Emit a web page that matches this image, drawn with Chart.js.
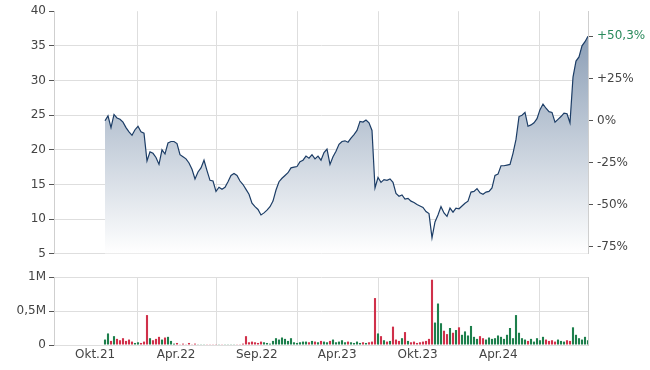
<!DOCTYPE html>
<html><head><meta charset="utf-8">
<script src="https://cdn.jsdelivr.net/npm/chart.js@4"></script>
<style>
html,body{margin:0;padding:0;background:#fff;width:650px;height:370px;overflow:hidden}
canvas{position:absolute;left:0}
#c1{top:0}
#c2{top:262px}
</style></head><body>
<canvas id="c1" width="650" height="265" style="width:650px;height:265px"></canvas>
<canvas id="c2" width="650" height="108" style="width:650px;height:108px"></canvas>
<script>
// closing prices, one sample per step (oldest first)
const prices = [
24.2,24.9,23.2,25.1,24.6,24.4,24.0,23.2,22.6,22.1,
22.9,23.4,22.6,22.4,18.4,19.7,19.5,18.9,17.9,20.0,
19.4,21.0,21.2,21.2,20.9,19.3,19.0,18.7,18.1,17.2,
15.8,16.8,17.4,18.5,17.0,15.6,15.5,14.0,14.6,14.3,
14.6,15.4,16.3,16.6,16.3,15.5,15.0,14.3,13.6,12.3,
11.8,11.4,10.6,10.9,11.3,11.8,12.6,14.2,15.4,15.9,
16.3,16.7,17.4,17.5,17.6,18.3,18.5,19.1,18.8,19.3,
18.7,19.1,18.5,19.6,20.1,17.9,19.0,19.8,20.8,21.2,
21.3,21.1,21.7,22.2,22.8,24.1,24.0,24.3,23.9,22.8,
14.5,16.0,15.3,15.7,15.6,15.8,15.3,13.7,13.3,13.5,
12.9,13.0,12.6,12.4,12.1,11.9,11.7,11.1,10.8,7.3,
9.6,10.6,11.8,10.9,10.4,11.6,11.0,11.6,11.5,11.9,
12.3,12.6,13.9,14.0,14.4,13.8,13.6,13.9,14.0,14.5,
16.3,16.5,17.7,17.7,17.8,17.9,19.5,21.5,24.8,25.0,
25.4,23.4,23.6,23.9,24.5,25.8,26.6,26.0,25.5,25.4,
24.0,24.4,24.8,25.3,25.2,23.9,30.5,32.8,33.4,35.0,
35.6,36.37
];
// traded volume in millions, same samples
const volumes = [
0.08,0.17,0.06,0.13,0.09,0.07,0.10,0.06,0.08,0.05,
0.03,0.04,0.03,0.05,0.44,0.10,0.07,0.09,0.12,0.08,
0.11,0.12,0.06,0.02,0.03,0.01,0.02,0.01,0.03,0.01,
0.02,0.01,0.01,0.01,0.01,0.01,0.01,0.01,0.01,0.01,
0.01,0.01,0.01,0.01,0.01,0.01,0.02,0.13,0.04,0.05,
0.04,0.03,0.05,0.04,0.03,0.02,0.06,0.10,0.08,0.11,
0.09,0.06,0.10,0.04,0.03,0.04,0.05,0.05,0.04,0.06,
0.05,0.04,0.06,0.05,0.04,0.06,0.08,0.04,0.05,0.07,
0.04,0.05,0.04,0.03,0.05,0.03,0.04,0.03,0.04,0.05,
0.69,0.17,0.13,0.07,0.05,0.06,0.27,0.08,0.06,0.10,
0.19,0.06,0.04,0.05,0.03,0.04,0.05,0.06,0.09,0.96,
0.33,0.61,0.32,0.21,0.16,0.25,0.18,0.22,0.26,0.15,
0.20,0.14,0.28,0.12,0.09,0.13,0.10,0.08,0.11,0.09,
0.10,0.14,0.12,0.09,0.15,0.25,0.10,0.44,0.18,0.10,
0.08,0.06,0.09,0.05,0.10,0.07,0.12,0.08,0.06,0.07,
0.05,0.08,0.06,0.05,0.07,0.06,0.26,0.15,0.10,0.08,
0.12,0.07
];
const tickLabels = ['Okt.21','Apr.22','Sep.22','Apr.23','Okt.23','Apr.24'];
const tickAt = [-3.3, 23.7, 50.6, 77.4, 104.2, 131.1];   // label positions (sample index)
const gridAt = [10.7, 37.3, 64.3, 91.0, 117.7, 144.7];   // period boundaries (sample index)
const priceTicks = [5,10,15,20,25,30,35,40];
const pctSteps = [-0.75,-0.5,-0.25,0,0.25];
const volTicks = [0,0.5,1];
const volTickLabels = ['0','0,5M','1M'];

if (prices.length !== volumes.length) throw new Error('length mismatch '+prices.length+' '+volumes.length);

Chart.defaults.font.family = "'DejaVu Sans', Verdana, sans-serif";
Chart.defaults.font.size = 12;
Chart.defaults.color = '#444';

const GRID = '#dedede', BORDER = '#cfcfcf', TICKC = '#555', TXT = '#444', GREENTXT = '#2a8a5c';
const idx = prices.map((_, i) => i);
const base = prices[0], last = prices[prices.length - 1];
const pctLast = (last / base - 1) * 100;
const fmtPct = k => k === 0 ? '0%' : (k > 0 ? '+' : '-') + Math.round(Math.abs(k) * 100) + '%';

function xScale(showLabels) {
  return {
    type: 'linear', min: -17, max: prices.length - 1, offset: false,
    afterBuildTicks: s => { s.ticks = gridAt.map(v => ({value: v})).concat(tickAt.map(v => ({value: v}))); },
    ticks: {
      display: showLabels, autoSkip: false, maxRotation: 0, minRotation: 0, padding: 3, color: TXT,
      callback: (v, i) => i >= gridAt.length ? tickLabels[i - gridAt.length] : ''
    },
    grid: { color: c => c.index < gridAt.length ? GRID : 'rgba(0,0,0,0)', drawTicks: false, offset: false },
    border: { display: false },
    afterFit: s => { s.height = showLabels ? 25 : 0; }
  };
}

new Chart(document.getElementById('c1'), {
  type: 'line',
  data: {
    labels: idx,
    datasets: [{
      data: prices,
      borderColor: '#1c3d66', borderWidth: 1.2, pointRadius: 0, tension: 0,
      fill: 'start',
      backgroundColor: c => {
        const a = c.chart.chartArea;
        if (!a) return 'rgba(140,160,185,0.5)';
        const g = c.chart.ctx.createLinearGradient(0, a.top, 0, a.bottom);
        g.addColorStop(0, '#7f94ae');
        g.addColorStop(1, '#ffffff');
        return g;
      }
    }]
  },
  options: {
    responsive: false, animation: false, devicePixelRatio: 1,
    layout: { padding: { top: 10, bottom: 8, left: 0, right: 0 } },
    plugins: { legend: { display: false }, tooltip: { enabled: false } },
    scales: {
      x: xScale(false),
      y: {
        position: 'left', min: 5, max: 40,
        afterBuildTicks: s => { s.ticks = priceTicks.map(v => ({value: v})); },
        ticks: { color: TXT, padding: 3 },
        grid: { color: c => (c.tick && c.tick.value === 40) ? 'rgba(0,0,0,0)' : GRID, tickColor: TICKC, tickLength: 5 },
        border: { display: true, color: BORDER },
        afterFit: s => { s.width = 54; }
      },
      y2: {
        position: 'right', min: 5, max: 40,
        afterBuildTicks: s => { s.ticks = pctSteps.map(k => ({value: base * (1 + k)})).concat([{value: last}]); },
        ticks: {
          padding: 4, autoSkip: false,
          color: c => c.index === pctSteps.length ? GREENTXT : TXT,
          callback: (v, i) => i < pctSteps.length ? fmtPct(pctSteps[i]) : '+' + pctLast.toFixed(1).replace('.', ',') + '%'
        },
        grid: { drawOnChartArea: false, tickColor: TICKC, tickLength: 5 },
        border: { display: true, color: BORDER },
        afterFit: s => { s.width = 62; }
      }
    }
  }
});

const UP = '#1d7f4c', DOWN = '#d0304a';
const barColors = prices.map((p, i) => (i === 0 || p >= prices[i - 1]) ? UP : DOWN);

new Chart(document.getElementById('c2'), {
  type: 'bar',
  data: {
    labels: idx,
    datasets: [{ data: volumes, backgroundColor: barColors, borderWidth: 0, barPercentage: 0.7, categoryPercentage: 1 }]
  },
  options: {
    responsive: false, animation: false, devicePixelRatio: 1,
    layout: { padding: { top: 15, bottom: 0, left: 0, right: 0 } },
    plugins: { legend: { display: false }, tooltip: { enabled: false } },
    scales: {
      x: xScale(true),
      y: {
        position: 'left', min: 0, max: 1,
        afterBuildTicks: s => { s.ticks = volTicks.map(v => ({value: v})); },
        ticks: { color: TXT, padding: 3, callback: (v, i) => volTickLabels[i] },
        grid: { color: GRID, tickColor: TICKC, tickLength: 5 },
        border: { display: true, color: BORDER },
        afterFit: s => { s.width = 54; }
      },
      y2: {
        position: 'right', min: 0, max: 1,
        ticks: { display: false },
        grid: { drawOnChartArea: false, drawTicks: false },
        border: { display: true, color: BORDER },
        afterFit: s => { s.width = 62; }
      }
    }
  }
});
</script>
</body></html>
